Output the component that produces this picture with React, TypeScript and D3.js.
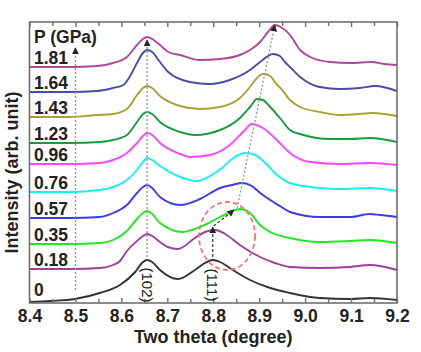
import { useEffect, useRef } from "react";
import * as d3 from "d3";

// pressure of each pattern (GPa), bottom to top
const pressures = ["0", "0.18", "0.35", "0.57", "0.76", "0.96", "1.23", "1.43", "1.64", "1.81"];
const colors = ["#333333", "#9c3f9c", "#1ee81e", "#3a3aee", "#12f2f2", "#ff44ff", "#179c3c", "#a6a232", "#4a4aaa", "#b0459e"];

// [two theta, stacked intensity]
const p000 = [[8.40, 1], [8.445, 2], [8.499, 4], [8.553, 10], [8.597, 18], [8.630, 31], [8.647, 41], [8.656, 43], [8.667, 41], [8.684, 33], [8.723, 24], [8.760, 33], [8.782, 40], [8.799, 43], [8.815, 41], [8.836, 35], [8.880, 23], [8.924, 15], [8.967, 10], [9.032, 5], [9.098, 4], [9.141, 5], [9.200, 3]];
const p018 = [[8.40, 34], [8.488, 34], [8.553, 35], [8.582, 38], [8.597, 42], [8.612, 52], [8.634, 62], [8.647, 67], [8.656, 69], [8.667, 67], [8.684, 61], [8.701, 56], [8.723, 54], [8.760, 65], [8.782, 71], [8.804, 73], [8.826, 69], [8.858, 58], [8.902, 46], [8.934, 40], [8.967, 36], [9.032, 35], [9.098, 36], [9.141, 38], [9.200, 33]];
const p035 = [[8.40, 59], [8.488, 59], [8.553, 60], [8.582, 63], [8.612, 72], [8.634, 84], [8.647, 90], [8.656, 92], [8.667, 89], [8.684, 80], [8.734, 71], [8.771, 76], [8.815, 86], [8.841, 92], [8.858, 94], [8.880, 90], [8.902, 78], [8.924, 71], [8.967, 65], [9.032, 61], [9.098, 62], [9.141, 63], [9.200, 60]];
const p057 = [[8.40, 85], [8.488, 85], [8.553, 86], [8.582, 90], [8.612, 98], [8.634, 110], [8.647, 116], [8.656, 118], [8.667, 115], [8.684, 106], [8.728, 98], [8.771, 104], [8.815, 115], [8.841, 118], [8.863, 120], [8.884, 117], [8.902, 110], [8.924, 103], [8.945, 97], [8.967, 91], [9.032, 86], [9.098, 86], [9.141, 89], [9.163, 88], [9.200, 86]];
const p076 = [[8.40, 111], [8.488, 111], [8.553, 113], [8.582, 116], [8.612, 123], [8.634, 133], [8.647, 141], [8.656, 145], [8.667, 143], [8.684, 137], [8.728, 126], [8.765, 122], [8.793, 127], [8.819, 135], [8.841, 144], [8.869, 150], [8.891, 148], [8.913, 140], [8.939, 128], [8.967, 120], [9.032, 115], [9.076, 114], [9.141, 115], [9.200, 112]];
const p096 = [[8.40, 139], [8.488, 139], [8.553, 140], [8.582, 143], [8.612, 150], [8.634, 160], [8.647, 167], [8.656, 170], [8.667, 168], [8.684, 160], [8.728, 149], [8.749, 146], [8.793, 148], [8.836, 158], [8.865, 171], [8.884, 179], [8.908, 175], [8.945, 160], [8.967, 150], [9.011, 141], [9.076, 139], [9.141, 140], [9.200, 138]];
const p123 = [[8.40, 160], [8.488, 160], [8.553, 161], [8.582, 163], [8.612, 168], [8.634, 181], [8.647, 189], [8.656, 191], [8.667, 189], [8.684, 181], [8.728, 171], [8.760, 168], [8.815, 173], [8.858, 185], [8.880, 196], [8.895, 204], [8.908, 203], [8.924, 196], [8.945, 185], [8.967, 173], [8.989, 169], [9.054, 164], [9.098, 164], [9.141, 165], [9.200, 161]];
const p143 = [[8.40, 186], [8.488, 186], [8.547, 188], [8.582, 189], [8.612, 194], [8.634, 208], [8.647, 215], [8.656, 217], [8.667, 215], [8.684, 207], [8.728, 197], [8.771, 194], [8.815, 196], [8.858, 205], [8.880, 216], [8.895, 225], [8.908, 229], [8.924, 227], [8.934, 221], [8.950, 213], [8.967, 203], [8.989, 196], [9.032, 191], [9.076, 188], [9.119, 189], [9.146, 190], [9.200, 187]];
const p164 = [[8.40, 211], [8.488, 211], [8.547, 212], [8.582, 215], [8.604, 218], [8.619, 227], [8.634, 240], [8.647, 250], [8.656, 253], [8.667, 251], [8.684, 241], [8.702, 231], [8.749, 221], [8.793, 219], [8.836, 223], [8.880, 233], [8.902, 241], [8.919, 247], [8.930, 249], [8.945, 247], [8.956, 241], [8.967, 236], [8.989, 226], [9.032, 216], [9.076, 214], [9.119, 215], [9.152, 217], [9.200, 212]];
const p181 = [[8.40, 236], [8.488, 236], [8.547, 237], [8.582, 240], [8.612, 246], [8.634, 258], [8.647, 264], [8.656, 266], [8.667, 264], [8.684, 258], [8.702, 251], [8.728, 248], [8.771, 243], [8.815, 244], [8.858, 248], [8.880, 253], [8.902, 261], [8.919, 271], [8.934, 278], [8.947, 276], [8.967, 268], [8.989, 253], [9.011, 246], [9.054, 241], [9.098, 240], [9.146, 241], [9.172, 239], [9.200, 238]];
const patterns = [p000, p018, p035, p057, p076, p096, p123, p143, p164, p181];

const majorTicks = [8.4, 8.5, 8.6, 8.7, 8.8, 8.9, 9.0, 9.1, 9.2];
const minorTicks = [8.45, 8.55, 8.65, 8.75, 8.85, 8.95, 9.05, 9.15];

// guide lines (two theta, intensity)
const guide85 = [[8.5, 13], [8.5, 255]];
const guide102 = [[8.656, 46], [8.656, 263]];
const guideShift = [[8.852, 95], [8.934, 278]];
const arrowUp111 = [[8.799, 46], [8.799, 76]];
const arrowSide111 = [[8.801, 77], [8.845, 93]];
const circle = { cx: 8.83, cy: 67, rx: 0.061, ry: 34 };

const W = 421, H = 352;
const L = 29.5, R = 397, T = 22, B = 303;
const font = "'Liberation Sans', Arial, sans-serif";

export default function App() {
  const axRef = useRef<SVGGElement>(null);
  const x = d3.scaleLinear().domain([8.4, 9.2]).range([L, R]);
  const y = d3.scaleLinear().domain([0, 281]).range([B, T]);
  const line = d3.line<number[]>().x((d) => x(d[0])).y((d) => y(d[1])).curve(d3.curveMonotoneX);
  const straight = d3.line<number[]>().x((d) => x(d[0])).y((d) => y(d[1]));

  useEffect(() => {
    const g = d3.select(axRef.current);
    g.selectAll("*").remove();
    const bot = g.append("g").attr("transform", `translate(0,${B})`)
      .call(d3.axisBottom(x).tickValues(majorTicks).tickSize(-5).tickPadding(7).tickFormat(d3.format(".1f")));
    bot.selectAll("text").attr("font-size", 17.5).attr("font-weight", "bold").attr("font-family", font).attr("fill", "#222");
    g.append("g").attr("transform", `translate(0,${B})`)
      .call(d3.axisBottom(x).tickValues(minorTicks).tickSize(-4).tickFormat(() => ""));
    g.append("g").attr("transform", `translate(0,${T})`)
      .call(d3.axisTop(x).tickValues(majorTicks).tickSize(-5).tickFormat(() => ""));
    g.append("g").attr("transform", `translate(0,${T})`)
      .call(d3.axisTop(x).tickValues(minorTicks).tickSize(-4).tickFormat(() => ""));
    g.selectAll(".domain").remove();
    g.selectAll(".tick line").attr("stroke", "#707070").attr("stroke-width", 1.4);
  }, []);

  return (
    <svg width={W} height={H} style={{ position: "absolute", left: 0, top: 0, background: "#fff" }}>
      <defs>
        <marker id="ah" viewBox="0 0 10 10" refX="9" refY="5" markerWidth="7" markerHeight="7" markerUnits="userSpaceOnUse" orient="auto">
          <path d="M0,0 L10,5 L0,10 z" fill="#222" />
        </marker>
      </defs>
      {patterns.map((p, i) => (
        <path key={i} d={line(p) ?? ""} fill="none" stroke={colors[i]} strokeWidth={1.9} />
      ))}
      <path d={straight(guide85) ?? ""} stroke="#9a9a9a" strokeWidth={1.4} strokeDasharray="2,2" markerEnd="url(#ah)" />
      <path d={straight(guide102) ?? ""} stroke="#9a9a9a" strokeWidth={1.4} strokeDasharray="2,2" markerEnd="url(#ah)" />
      <path d={straight(guideShift) ?? ""} stroke="#9a9a9a" strokeWidth={1.4} strokeDasharray="2,2" markerEnd="url(#ah)" />
      <path d={straight(arrowUp111) ?? ""} stroke="#333" strokeWidth={1.2} strokeDasharray="3,2" markerEnd="url(#ah)" />
      <path d={straight(arrowSide111) ?? ""} stroke="#333" strokeWidth={1.2} strokeDasharray="3,2" markerEnd="url(#ah)" />
      <ellipse cx={x(circle.cx)} cy={y(circle.cy)} rx={x(circle.cx + circle.rx) - x(circle.cx)} ry={y(0) - y(circle.ry)}
        fill="none" stroke="#f07878" strokeWidth={1.8} strokeDasharray="5,3" />
      <rect x={L} y={T} width={R - L} height={B - T} fill="none" stroke="#707070" strokeWidth={1.6} />
      <g ref={axRef} />
      <g fontFamily={font} fontWeight="bold" fontSize={17.5} fill="#222">
        <text x={34} y={43}>P (GPa)</text>
        {patterns.map((p, i) => (
          <text key={i} x={34} y={Math.min(y(p[0][1]) - 3, y(0) - 7)}>{pressures[i]}</text>
        ))}
      </g>
      <g fontFamily={font} fontSize={15} fill="#222">
        <text transform={`translate(${x(8.656)},${y(18)}) rotate(90)`} textAnchor="middle" dominantBaseline="central">(102)</text>
        <text transform={`translate(${x(8.799)},${y(18)}) rotate(90)`} textAnchor="middle" dominantBaseline="central">(111)</text>
      </g>
      <text x={(L + R) / 2} y={343} textAnchor="middle" fontFamily={font} fontWeight="bold" fontSize={18} fill="#222">Two theta (degree)</text>
      <text transform={`translate(18,${(T + B) / 2 + 10}) rotate(-90)`} textAnchor="middle" fontFamily={font} fontWeight="bold" fontSize={18} fill="#222">Intensity (arb. unit)</text>
    </svg>
  );
}
